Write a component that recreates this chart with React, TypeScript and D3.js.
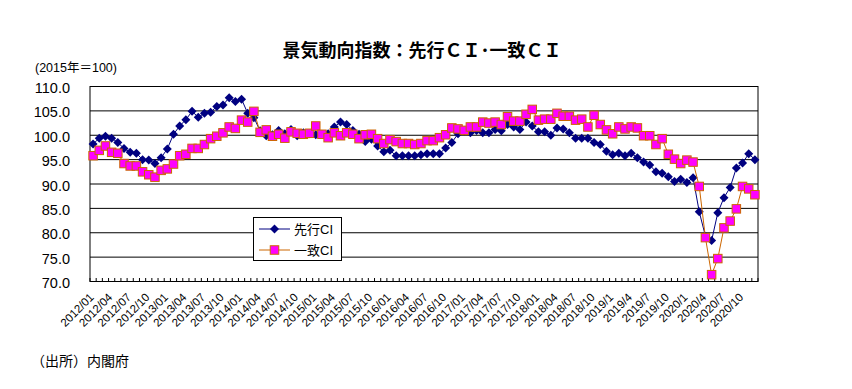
import React, { useEffect } from 'react';
import * as d3 from 'd3';

// 景気動向指数 — monthly leading / coincident CI, 2012/01 .. 2020/12 (2015 = 100)

const START_YEAR = 2012;
const MONTHS = 108;

const leadingCI = [
  98.2, 99.4, 99.8, 99.4, 98.5, 97.3, 96.5, 96.3, 95.0, 94.9, 94.2, 95.4,
  97.2, 100.2, 101.9, 103.2, 104.9, 103.7, 104.5, 104.7, 105.9, 106.2, 107.7, 106.9,
  107.4, 104.5, 103.6, 100.9, 99.9, 100.1, 101.0, 100.3, 101.2, 99.9, 100.5, 100.3,
  100.1, 100.2, 100.3, 101.7, 102.7, 102.2, 101.0, 100.2, 98.7, 99.2, 97.8, 96.6,
  96.9, 95.8, 95.8, 95.8, 95.8, 96.0, 96.2, 96.2, 96.2, 97.4, 98.5, 100.3,
  100.9, 100.5, 101.0, 100.5, 100.5, 101.2, 100.9, 102.2, 101.7, 101.2, 102.7, 101.9,
  100.7, 100.7, 100.0, 101.5, 101.3, 100.5, 99.4, 99.4, 99.4, 98.5, 98.1, 96.7,
  96.0, 96.3, 95.8, 96.3, 95.4, 94.5, 93.9, 92.5, 92.2, 91.5, 90.5, 91.0,
  90.3, 91.3, 84.3, 79.3, 78.4, 84.1, 87.2, 89.3, 93.3, 94.3, 96.2, 95.0,
];

const coincidentCI = [
  95.8, 96.9, 97.8, 96.5, 96.3, 94.2, 93.7, 93.7, 92.5, 91.9, 91.4, 92.8,
  93.1, 94.1, 95.8, 96.1, 97.3, 97.3, 98.1, 99.3, 99.8, 100.5, 101.7, 101.4,
  103.1, 102.7, 104.9, 100.6, 101.1, 99.8, 100.2, 99.4, 100.7, 100.4, 100.2, 100.4,
  101.9, 100.2, 99.5, 100.5, 99.9, 100.5, 100.2, 99.3, 100.1, 100.2, 99.3, 98.3,
  99.1, 98.7, 98.3, 98.3, 98.1, 98.3, 98.9, 98.9, 99.5, 100.1, 101.5, 101.3,
  101.0, 101.7, 101.7, 102.7, 102.5, 102.7, 102.2, 103.8, 102.9, 102.9, 104.3, 105.3,
  103.1, 103.3, 103.3, 104.5, 103.9, 103.9, 103.1, 103.3, 101.7, 104.1, 102.2, 101.1,
  100.3, 101.7, 101.3, 101.7, 101.5, 99.9, 99.9, 98.1, 99.3, 96.1, 95.1, 94.2,
  94.9, 94.5, 89.5, 79.0, 71.4, 74.7, 81.0, 82.4, 84.9, 89.5, 89.0, 87.8,
];

// Excel switched from zero-padded months to plain ones in 2019
const monthLabels = d3.range(0, MONTHS, 3).map((i) => {
  const y = START_YEAR + Math.floor(i / 12);
  const m = (i % 12) + 1;
  return { i, text: y < 2019 ? `${y}/${String(m).padStart(2, '0')}` : `${y}/${m}` };
});

const yTicks = [70, 75, 80, 85, 90, 95, 100, 105, 110];

const FONT = "'Liberation Sans', Arial, 'Noto Sans CJK JP', sans-serif";
const NAVY = '#000080';
const ORANGE = '#CC6600';
const MAGENTA = '#FF00FF';

function Diamond({ x, y, r = 4.5 }: { x: number; y: number; r?: number }) {
  return <path d={`M${x},${y - r}L${x + r},${y}L${x},${y + r}L${x - r},${y}Z`} fill={NAVY} />;
}

function Square({ x, y, s = 8.5 }: { x: number; y: number; s?: number }) {
  return <rect x={x - s / 2} y={y - s / 2} width={s} height={s} fill={MAGENTA} stroke={ORANGE} strokeWidth={1} />;
}

export default function App() {
  useEffect(() => {
    document.body.style.margin = '0';
  }, []);

  const width = 852;
  const height = 389;
  const left = 90, right = 758, top = 86.5, bottom = 281.5;

  const idx = d3.range(MONTHS);
  const xBand = d3.scaleBand<number>().domain(idx).range([left, right]).padding(0);
  const cx = (i: number) => (xBand(i) ?? 0) + xBand.bandwidth() / 2;
  const y = d3.scaleLinear().domain([70, 110]).range([bottom, top]);

  const line = d3.line<number>().x((_, i) => cx(i)).y((d) => y(d));

  return (
    <svg width={width} height={height} style={{ display: 'block', background: '#fff' }} fontFamily={FONT}>
      <text x={422} y={57} textAnchor="middle" fontSize={18} fontWeight="bold" fill="#000">
        景気動向指数：先行ＣＩ･一致ＣＩ
      </text>
      <text x={35} y={72} fontSize={12.5} fill="#000">(2015年＝100)</text>

      {/* grid + frame */}
      {yTicks.map((t) => (
        <g key={t}>
          <line x1={left} x2={right} y1={y(t)} y2={y(t)} stroke="#000" strokeWidth={1} />
          <text x={70} y={y(t) + 1.5} textAnchor="end" dominantBaseline="central" fontSize={14.5} fill="#000">
            {t.toFixed(1)}
          </text>
        </g>
      ))}
      <rect x={left} y={top} width={right - left} height={bottom - top} fill="none" stroke="#000" strokeWidth={1} />
      {d3.range(MONTHS + 1).map((i) => {
        const xx = left + i * xBand.bandwidth();
        return <line key={i} x1={xx} x2={xx} y1={bottom} y2={bottom - 3.5} stroke="#000" strokeWidth={1} />;
      })}

      {/* x labels */}
      {monthLabels.map((l) => (
        <text
          key={l.i}
          transform={`translate(${cx(l.i) + 1.5},${298}) rotate(-45)`}
          textAnchor="end"
          fontSize={11.5}
          fill="#000"
        >
          {l.text}
        </text>
      ))}

      {/* leading CI */}
      <path d={line(leadingCI) ?? ''} fill="none" stroke={NAVY} strokeWidth={1} />
      {leadingCI.map((v, i) => <Diamond key={i} x={cx(i)} y={y(v)} />)}

      {/* coincident CI */}
      <path d={line(coincidentCI) ?? ''} fill="none" stroke={ORANGE} strokeWidth={1} />
      {coincidentCI.map((v, i) => <Square key={i} x={cx(i)} y={y(v)} />)}

      {/* legend */}
      <rect x={253.5} y={217.5} width={88} height={43} fill="#fff" stroke="#000" strokeWidth={1} />
      <line x1={259} x2={290} y1={229} y2={229} stroke={NAVY} strokeWidth={1} />
      <Diamond x={274.5} y={229} />
      <text x={294} y={229} dominantBaseline="central" fontSize={13}>先行CI</text>
      <line x1={259} x2={290} y1={250} y2={250} stroke={ORANGE} strokeWidth={1} />
      <Square x={274.5} y={250} />
      <text x={294} y={250} dominantBaseline="central" fontSize={13}>一致CI</text>

      <text x={31} y={366} fontSize={14} fill="#000">（出所）内閣府</text>
    </svg>
  );
}
